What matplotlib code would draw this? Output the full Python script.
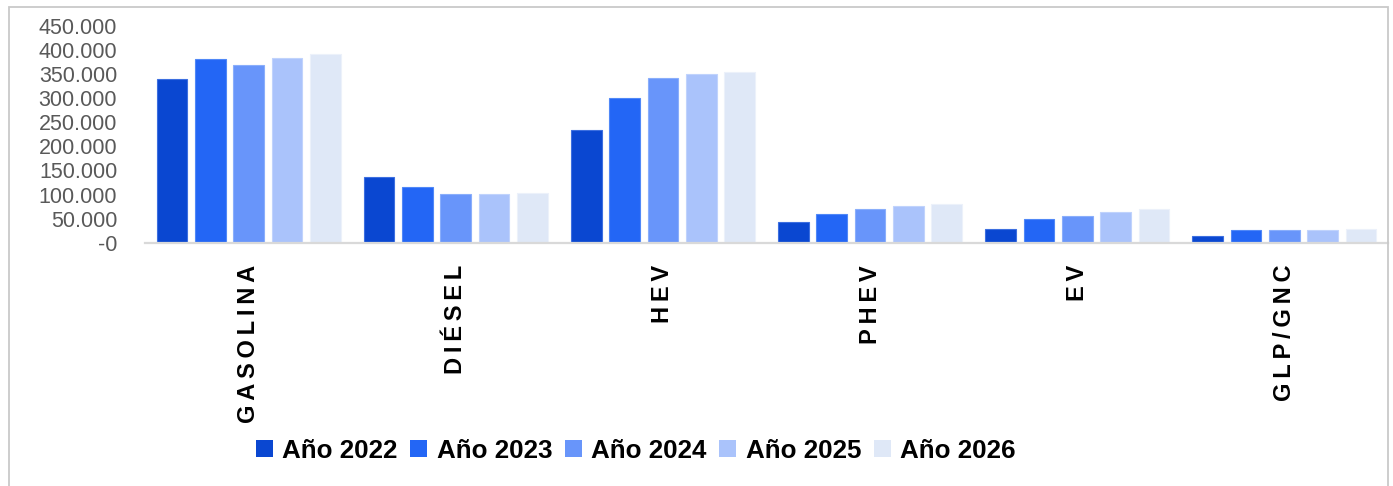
import matplotlib
matplotlib.use("Agg")
import matplotlib.pyplot as plt
import numpy as np
from matplotlib.patches import Rectangle
from matplotlib.ticker import FuncFormatter

# Vehicle fleet by fuel type, yearly series
categories = ["GASOLINA", "DIÉSEL", "HEV", "PHEV", "EV", "GLP/GNC"]
years = ["Año 2022", "Año 2023", "Año 2024", "Año 2025", "Año 2026"]
v2022 = [340000, 137000, 235000, 44000, 28000, 13000]
v2023 = [382000, 115000, 300000, 60000, 50000, 26000]
v2024 = [368000, 101000, 343000, 70000, 56000, 27000]
v2025 = [384000, 101000, 351000, 77000, 63000, 27000]
v2026 = [392000, 103000, 354000, 81000, 69000, 28000]
series = [v2022, v2023, v2024, v2025, v2026]
colors = ["#0a47d1", "#2366f5", "#6895fa", "#aac3fb", "#dfe8f7"]
edges = ["#3d6fe0", "#5088f7", "#8aaefb", "#c0d3fc", "#ecf1fa"]
yticks = np.arange(0, 450001, 50000)

W, H = 1393, 486
fig = plt.figure(figsize=(W / 100, H / 100), dpi=100)
fig.patch.set_facecolor("white")

left, right = 145 / W, 1388 / W
bottom, top = 1 - 242.7 / H, 1 - 26 / H
ax = fig.add_axes([left, bottom, right - left, top - bottom])

x = np.arange(len(categories))
bw, pitch = 0.148, 0.185
for i, (vals, c, ec) in enumerate(zip(series, colors, edges)):
    ax.bar(x + (i - 2) * pitch, vals, width=bw, color=c, edgecolor=ec,
           linewidth=0.8, label=years[i], zorder=2)

ax.set_xlim(-0.5, len(categories) - 0.5)
ax.set_ylim(0, 450000)
ax.set_yticks(yticks)


def thousands(v, _):
    if v == 0:
        return "-0"
    return f"{int(v):,}".replace(",", ".")


ax.yaxis.set_major_formatter(FuncFormatter(thousands))
ax.tick_params(axis="y", length=0, pad=20, labelsize=15.5, labelcolor="#595959")
for lab in ax.get_yticklabels():
    lab.set_fontfamily(["Liberation Sans", "DejaVu Sans"])

# category labels, rotated and letter-spaced
spaced = ["\u2009".join(list(c)) for c in categories]
ax.set_xticks(x)
ax.set_xticklabels(spaced, rotation=90, fontsize=17, fontweight="bold",
                   family=["Liberation Sans", "DejaVu Sans"], color="black",
                   va="top", ha="center")
ax.tick_params(axis="x", length=0, pad=16)

for s in ["top", "right", "left"]:
    ax.spines[s].set_visible(False)
ax.spines["bottom"].set_color("#d9d9d9")
ax.spines["bottom"].set_linewidth(1.6)
ax.spines["bottom"].set_zorder(3)

handles, labels = ax.get_legend_handles_labels()
leg = fig.legend(handles, labels, loc="center", ncol=5, frameon=False,
                 bbox_to_anchor=(636 / W, 1 - 451 / H),
                 prop={"family": ["Liberation Sans", "DejaVu Sans"],
                       "weight": "bold", "size": 18.75},
                 handlelength=0.64, handleheight=0.64, handletextpad=0.37,
                 columnspacing=0.49, borderpad=0, borderaxespad=0)
for h in leg.legend_handles:
    h.set_linewidth(0)

# outer chart frame
fig.add_artist(Rectangle((8.7 / W, -0.05), (1387.7 - 8.7) / W, 1.05 - 6.7 / H,
                         transform=fig.transFigure, fill=False,
                         edgecolor="#c9c9c9", linewidth=1.3, clip_on=False))

fig.savefig("out.png", dpi=100, facecolor="white")
